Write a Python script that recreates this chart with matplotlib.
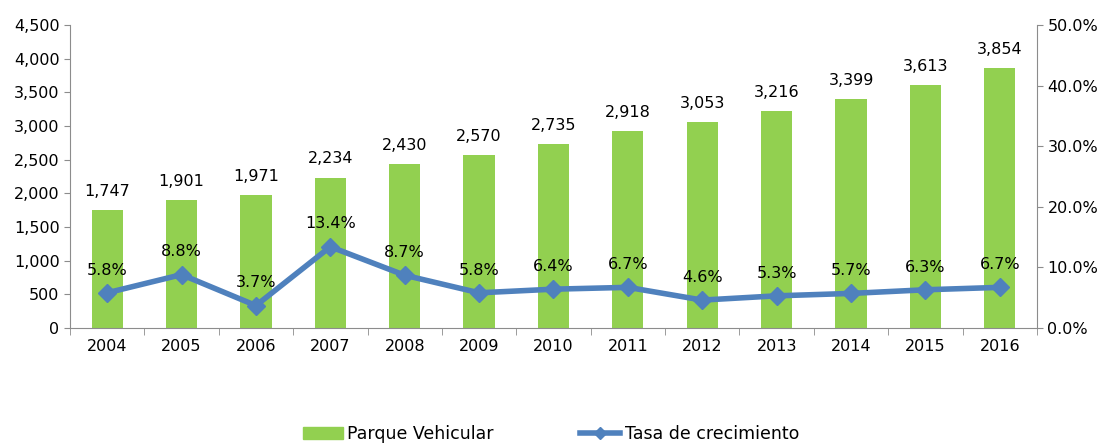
import numpy as np
import matplotlib.pyplot as plt
from matplotlib.ticker import FuncFormatter, FixedLocator
from matplotlib.patches import Patch
from matplotlib.lines import Line2D

years = ['2004', '2005', '2006', '2007', '2008', '2009', '2010', '2011', '2012',
         '2013', '2014', '2015', '2016']
parque = [1747, 1901, 1971, 2234, 2430, 2570, 2735, 2918, 3053, 3216, 3399, 3613, 3854]
tasa = [5.8, 8.8, 3.7, 13.4, 8.7, 5.8, 6.4, 6.7, 4.6, 5.3, 5.7, 6.3, 6.7]

plt.rcParams['font.family'] = ['DejaVu Sans']
green = '#92D050'
blue = '#4F81BD'
grey = '#8C8C8C'

fig = plt.figure(figsize=(11.02, 4.45), dpi=100)
ax = fig.add_axes([0.0635, 0.263, 0.8775, 0.681])
x = np.arange(len(years))

ax.bar(x, parque, width=0.42, color=green, zorder=2)
ax.set_ylim(0, 4500)
ax.set_xlim(-0.5, len(years) - 0.5)
ax.set_yticks(np.arange(0, 4501, 500))
ax.yaxis.set_major_formatter(FuncFormatter(lambda v, p: f'{int(v):,}'))
ax.set_xticks(x)
ax.set_xticklabels(years)
ax.xaxis.set_minor_locator(FixedLocator(np.arange(-0.5, len(years), 1)))
ax.tick_params(axis='x', which='major', length=0, pad=8, labelsize=11.5)
ax.tick_params(axis='x', which='minor', length=5, color=grey, direction='out')
ax.tick_params(axis='y', length=4, color=grey, direction='out', labelsize=11.5)
for s in ['top', 'right']:
    ax.spines[s].set_visible(False)
for s in ['left', 'bottom']:
    ax.spines[s].set_color(grey)

for xi, v in zip(x, parque):
    ax.annotate(f'{v:,}', (xi, v), xytext=(0, 8), textcoords='offset points',
                ha='center', va='bottom', fontsize=11.5)

ax2 = ax.twinx()
ax2.plot(x, tasa, color=blue, lw=4, marker='D', markersize=9, zorder=3)
ax2.set_ylim(0, 50)
ax2.set_yticks(np.arange(0, 51, 10))
ax2.yaxis.set_major_formatter(FuncFormatter(lambda v, p: f'{v:.1f}%'))
ax2.tick_params(axis='y', length=4, color=grey, direction='out', labelsize=11.5)
for s in ['top', 'left', 'bottom']:
    ax2.spines[s].set_visible(False)
ax2.spines['right'].set_color(grey)

for xi, v in zip(x, tasa):
    ax2.annotate(f'{v:.1f}%', (xi, v), xytext=(0, 11), textcoords='offset points',
                 ha='center', va='bottom', fontsize=11.5)

handles = [Patch(color=green, label='Parque Vehicular'),
           Line2D([0], [0], color=blue, lw=4, marker='D', markersize=6,
                  label='Tasa de crecimiento')]
fig.legend(handles=handles, loc='lower center', ncol=2, frameon=False,
           bbox_to_anchor=(0.5, -0.03), fontsize=12.5, columnspacing=5.0,
           handlelength=2.3, handletextpad=0.25)

fig.savefig('out.png', dpi=100)
